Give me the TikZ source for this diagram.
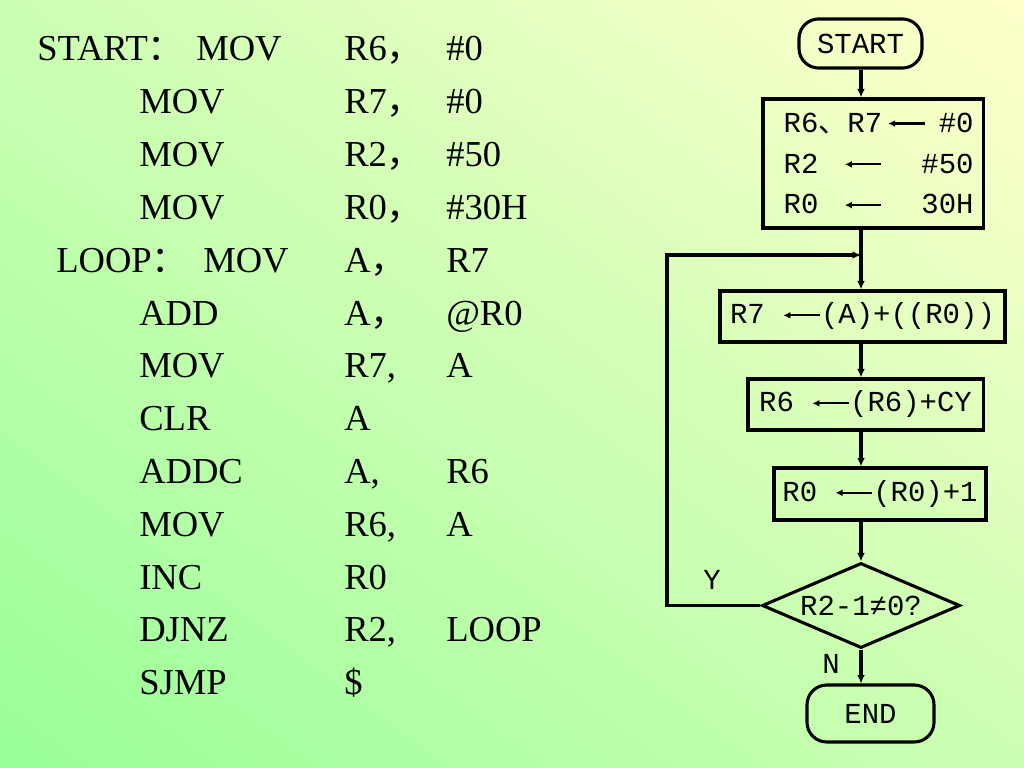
\documentclass[tikz,border=0pt]{standalone}
\usepackage{fontspec}
\usepackage{amsmath}
\setmainfont{Liberation Serif}
\newfontfamily\cjk{Noto Sans CJK SC}
\newfontfamily\chartfont{Liberation Mono}
\usetikzlibrary{shapes.geometric,arrows.meta,positioning}
\definecolor{bggreen}{RGB}{153,255,153}
\definecolor{bgyellow}{RGB}{255,255,204}
\newcommand{\assign}{\tikz[baseline=-0.3em]\draw[line width=1.6pt,{Latex[length=5pt,width=5pt]}-] (0pt,0pt) -- (26pt,0pt);}

\begin{document}
\begin{tikzpicture}[x=0.025cm,y=-0.025cm,
	codetext/.style={anchor=base west,inner sep=0pt,font=\fontsize{26}{30}\selectfont},
	chart/.style={font=\chartfont\fontsize{20.6}{29}\selectfont},
	procbox/.style={chart,draw,line width=2.2pt,inner sep=0pt},
	termbox/.style={procbox,rounded corners=14pt},
	decbox/.style={procbox,diamond,shape aspect=2.33},
	flowline/.style={line width=2.2pt,-{Latex[length=6pt,width=5.5pt]}}]

	\begin{scope}
		\clip (0,0) rectangle (1024,768);
		\begin{scope}[y=0.025cm,shift={(0,-768)},rotate=53.13]
			\foreach \k [evaluate=\k as \p using {100*\k/63}] in {0,...,63}
				\fill[bgyellow!\p!bggreen] ({19.2*\k},-1400) rectangle ({19.2*\k+19.8},1400);
		\end{scope}
	\end{scope}
	\useasboundingbox (0,0) rectangle (1024,768);

	\node[codetext] (startlbl) at (37,61) {START{\cjk ：}};
	\node[codetext] (looplbl) at (56,272.2) {LOOP{\cjk ：}};
	\foreach \ox/\op/\ra/\rb [count=\i] in {196/MOV/R6{\cjk ，}/\#0, 139/MOV/R7{\cjk ，}/\#0, 139/MOV/R2{\cjk ，}/\#50, 139/MOV/R0{\cjk ，}/\#30H, 203/MOV/A{\cjk ，}/R7, 139/ADD/A{\cjk ，}/@R0, 139/MOV/{R7,}/A, 139/CLR/A/, 139/ADDC/{A,}/R6, 139/MOV/{R6,}/A, 139/INC/R0/, 139/DJNZ/{R2,}/LOOP, 139/SJMP/\$/}
	{
		\node[codetext] (op\i) at (\ox,{61+52.8*(\i-1)}) {\op};
		\node[codetext] (ra\i) at (344,{61+52.8*(\i-1)}) {\ra};
		\node[codetext] (rb\i) at (446,{61+52.8*(\i-1)}) {\rb};
	}

	\coordinate (spine) at (861,0);
	\coordinate (loopc) at (667,255);
	\node[termbox,minimum width=87.5pt,minimum height=34.9pt] (start) at (860.5,43.5) {START};
	\node[procbox,minimum width=156.5pt,minimum height=91.8pt,text width=143pt,align=left] (init) at (873,163.5) {\hspace*{8pt}R6{\cjk 、}R7\,\assign\hfill\#0\\ \hspace*{8pt}R2\hspace{18pt}\assign\hfill\#50\\ \hspace*{8pt}R0\hspace{18pt}\assign\hfill 30H};
	\node[procbox,minimum width=202.7pt,minimum height=36.3pt] (sum) at (862.5,316.5) {R7 \assign(A)+((R0))};
	\node[procbox,minimum width=167.2pt,minimum height=36.3pt] (carry) at (865.5,404.5) {R6 \assign(R6)+CY};
	\node[procbox,minimum width=150.8pt,minimum height=37pt] (next) at (880,494) {R0 \assign(R0)+1};
	\node[decbox,minimum width=140.8pt,minimum height=60.5pt] (dec) at (861,605.5) {R2-1≠0?};
	\node[termbox,minimum width=90.3pt,minimum height=40.5pt] (stop) at (870.5,713.5) {END};
	\node[chart] (yes) at (712,580) {Y};
	\node[chart] (no) at (831,664) {N};

	\draw[flowline] (spine |- start.south) -- (spine |- init.north);
	\draw[flowline] (spine |- init.south) -- (spine |- sum.north);
	\draw[flowline] (spine |- sum.south) -- (spine |- carry.north);
	\draw[flowline] (spine |- carry.south) -- (spine |- next.north);
	\draw[flowline] (spine |- next.south) -- (dec.north);
	\draw[flowline] (dec.south) -- (spine |- stop.north);
	\draw[flowline] (dec.west) -| (loopc) -- (spine |- loopc);

\end{tikzpicture}
\end{document}
